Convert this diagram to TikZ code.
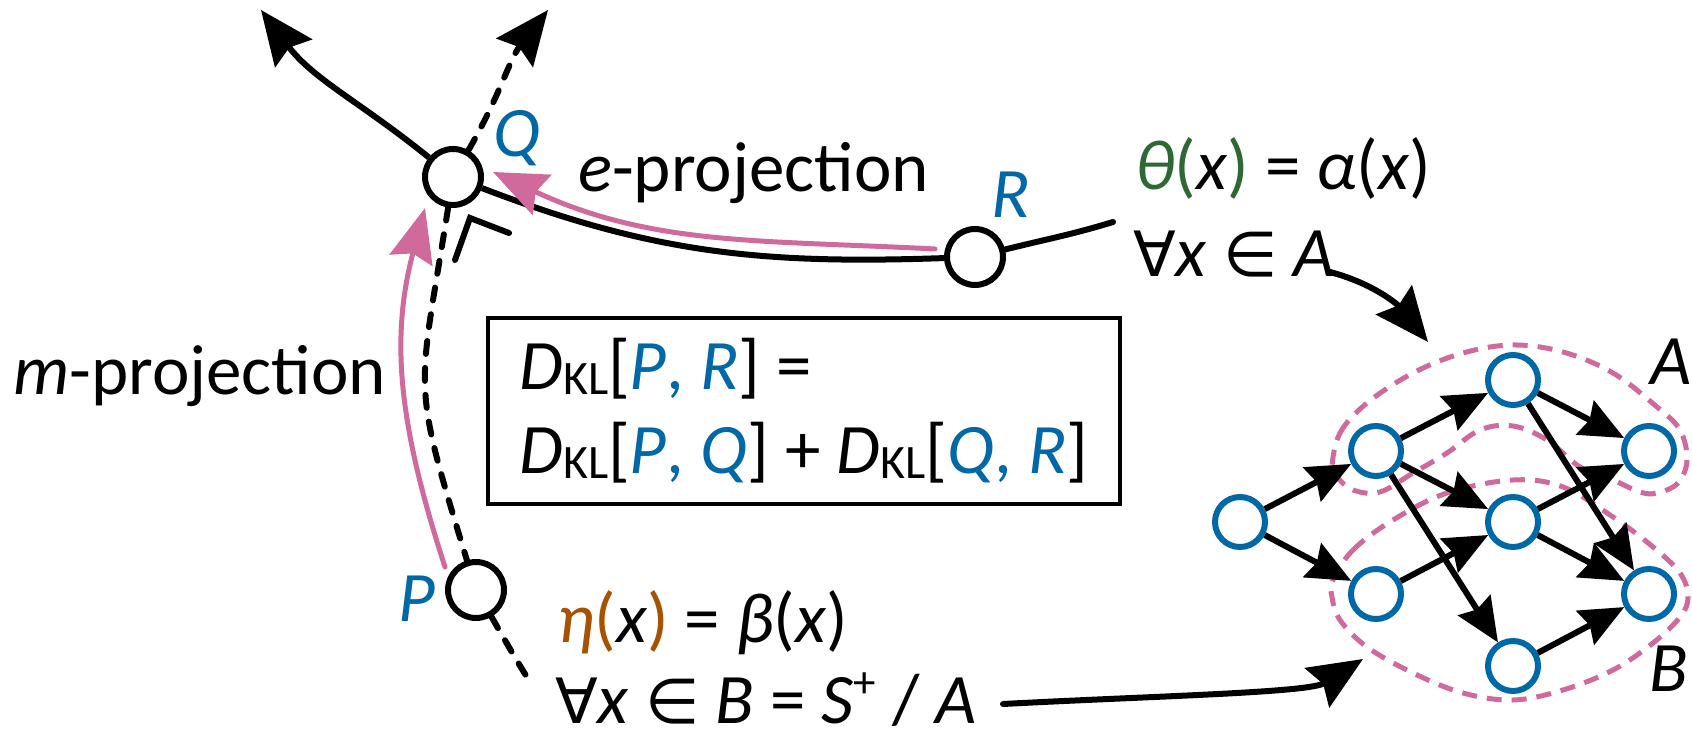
\documentclass[tikz,border=0pt]{standalone}
\usepackage{fontspec}
\setmainfont{Carlito}
\newfontfamily\symf[Scale=0.88]{DejaVu Sans}
\usetikzlibrary{arrows.meta}
\definecolor{qblue}{RGB}{0,104,166}
\definecolor{ppink}{RGB}{208,106,156}
\definecolor{tgreen}{RGB}{46,104,52}
\definecolor{eorange}{RGB}{166,82,0}
\newcommand\bigfont{\fontsize{71}{84}\selectfont}
\newcommand\myDKL{\textit{D}\raisebox{-5pt}{\fontsize{48}{48}\selectfont KL}}
\tikzset{
  curve/.style={line width=6pt},
  bigarrow/.style={-{Stealth[length=54pt,width=46pt,inset=7pt]}},
  netedge/.style={line width=6pt,-{Stealth[length=44pt,width=38pt,inset=5pt]}},
  dist/.style={circle,draw=black,line width=6pt,fill=white,minimum size=56pt,inner sep=0pt},
  unit/.style={circle,draw=qblue,line width=6pt,fill=white,minimum size=50pt,inner sep=0pt},
  dashcurve/.style={line width=6pt,dash pattern=on 13pt off 14pt,line cap=round},
  projarrow/.style={draw=ppink,line width=5pt,-{Stealth[length=54pt,width=44pt,inset=7pt]}},
  region/.style={draw=ppink,line width=5pt,dash pattern=on 15pt off 10pt},
  lbl/.style={inner sep=0pt,font=\bigfont},
}
\begin{document}
\begin{tikzpicture}[x=1pt,y=1pt]
\fill[white] (0,0) rectangle (1692,733);
\useasboundingbox (0,0) rectangle (1692,733);

% regions
\draw[region] plot[smooth cycle,tension=0.6] coordinates {(1332,266) (1340,300) (1367,330) (1413,360) (1463,380) (1513,388) (1563,381) (1613,360) (1657,326) (1680,303) (1687,273) (1678,250) (1657,240) (1640,241) (1613,253) (1580,266) (1547,293) (1513,307) (1480,303) (1447,280) (1413,260) (1380,241) (1353,243) (1337,256)};
\draw[region] plot[smooth cycle,tension=0.6] coordinates {(1333,153) (1353,183) (1393,213) (1447,240) (1513,253) (1563,246) (1613,216) (1653,186) (1680,160) (1688,136) (1680,116) (1653,90) (1613,63) (1563,43) (1513,33) (1463,40) (1413,60) (1367,86) (1340,113) (1332,136)};

% distributions
\node[dist] (Q) at (453,556) {};
\node[dist] (R) at (975,476) {};
\node[dist] (P) at (476,143) {};
\coordinate (tipL) at (261,723);
\coordinate (tipD) at (548,723);
\coordinate (rEnd) at (1113,511);
\coordinate (pEnd) at (530,51);

\draw[curve,bigarrow] (Q) to[out=141,in=-53] (tipL);
\draw[curve] (Q) to[out=-21,in=182] (R);
\draw[curve,line cap=round] (R) to[out=14,in=197] (rEnd);
\draw[dashcurve,bigarrow] (Q) to[out=60,in=232] (tipD);
\draw[dashcurve] (Q) to[out=261,in=107,looseness=1.4] (P);
\draw[dashcurve] (P) to[out=-60,in=122] (pEnd);

% right angle mark
\draw[curve,line cap=round] (455,473) -- (470,515) -- (509,500);

% projections
\coordinate (eStart) at (935,484);
\coordinate (eTip) at (493,561);
\draw[projarrow,line cap=round] (eStart) to[out=177,in=-25] (eTip);
\coordinate (mStart) at (445,166);
\coordinate (mTip) at (425,525);
\draw[projarrow,line cap=round] (mStart) to[out=108,in=255] (mTip);

% labels
\node[lbl,anchor=base west] (mproj) at (13,338) {\textit{m}-projection};
\node[lbl,anchor=base west] (eproj) at (578,541) {\textit{e}-projection};
\node[lbl,anchor=base,text=qblue] (Qlbl) at (517,576) {\textit{Q}};
\node[lbl,anchor=base,text=qblue] (Rlbl) at (1011,515) {\textit{R}};
\node[lbl,anchor=base,text=qblue] (Plbl) at (417,111) {\textit{P}};
\node[lbl,anchor=base west] (theta) at (1135,543) {\textcolor{tgreen}{\textit{θ}(}\textit{x}\textcolor{tgreen}{)} = \textit{α}(\textit{x})};
\node[lbl,anchor=base west] (forallA) at (1133,456) {{\symf ∀}\textit{x} {\symf ∈} \textit{A}};
\node[lbl,anchor=base west] (eta) at (557,90) {\textcolor{eorange}{\textit{η}(}\textit{x}\textcolor{eorange}{)} = \textit{β}(\textit{x})};
\node[lbl,anchor=base west] (forallB) at (555,9) {\raisebox{0pt}[\height][0pt]{{\symf ∀}\textit{x} {\symf ∈} \textit{B} = \textit{S}\raisebox{26pt}{\fontsize{45}{45}\selectfont +} / \textit{A}}};
\node[lbl] (Albl) at (1671,371) {\textit{A}};
\node[lbl] (Blbl) at (1669,64) {\textit{B}};

% box
\node[draw,line width=4pt,minimum width=632pt,minimum height=186pt,align=left,inner sep=0pt,font=\bigfont] (box) at (804,322)
  {\myDKL[\textcolor{qblue}{\textit{P}, \textit{R}}] =\\
   \myDKL[\textcolor{qblue}{\textit{P}, \textit{Q}}] + \myDKL[\textcolor{qblue}{\textit{Q}, \textit{R}}]};

% arrows to network
\coordinate (aStart) at (1330,461);
\coordinate (aTip) at (1428,391);
\draw[curve,bigarrow,line cap=round] (aStart) to[out=-15,in=129] (aTip);
\coordinate (bStart) at (1003,29);
\coordinate (bTip) at (1363,74);
\draw[curve,bigarrow,line cap=round] (bStart) to[out=3,in=212,out looseness=1.1,in looseness=0.45] (bTip);

% network
\node[unit] (n0) at (1240,211) {};
\node[unit] (n1) at (1376,282) {};
\node[unit] (n2) at (1376,139) {};
\node[unit] (n3) at (1513,353) {};
\node[unit] (n4) at (1513,211) {};
\node[unit] (n5) at (1513,67) {};
\node[unit] (n6) at (1649,282) {};
\node[unit] (n7) at (1649,139) {};
\draw[netedge] (n0) -- (n1);
\draw[netedge] (n0) -- (n2);
\draw[netedge] (n1) -- (n3);
\draw[netedge] (n1) -- (n4);
\draw[netedge] (n1) -- (n5);
\draw[netedge] (n2) -- (n4);
\draw[netedge] (n3) -- (n6);
\draw[netedge] (n3) -- (n7);
\draw[netedge] (n4) -- (n6);
\draw[netedge] (n4) -- (n7);
\draw[netedge] (n5) -- (n7);
\end{tikzpicture}
\end{document}
